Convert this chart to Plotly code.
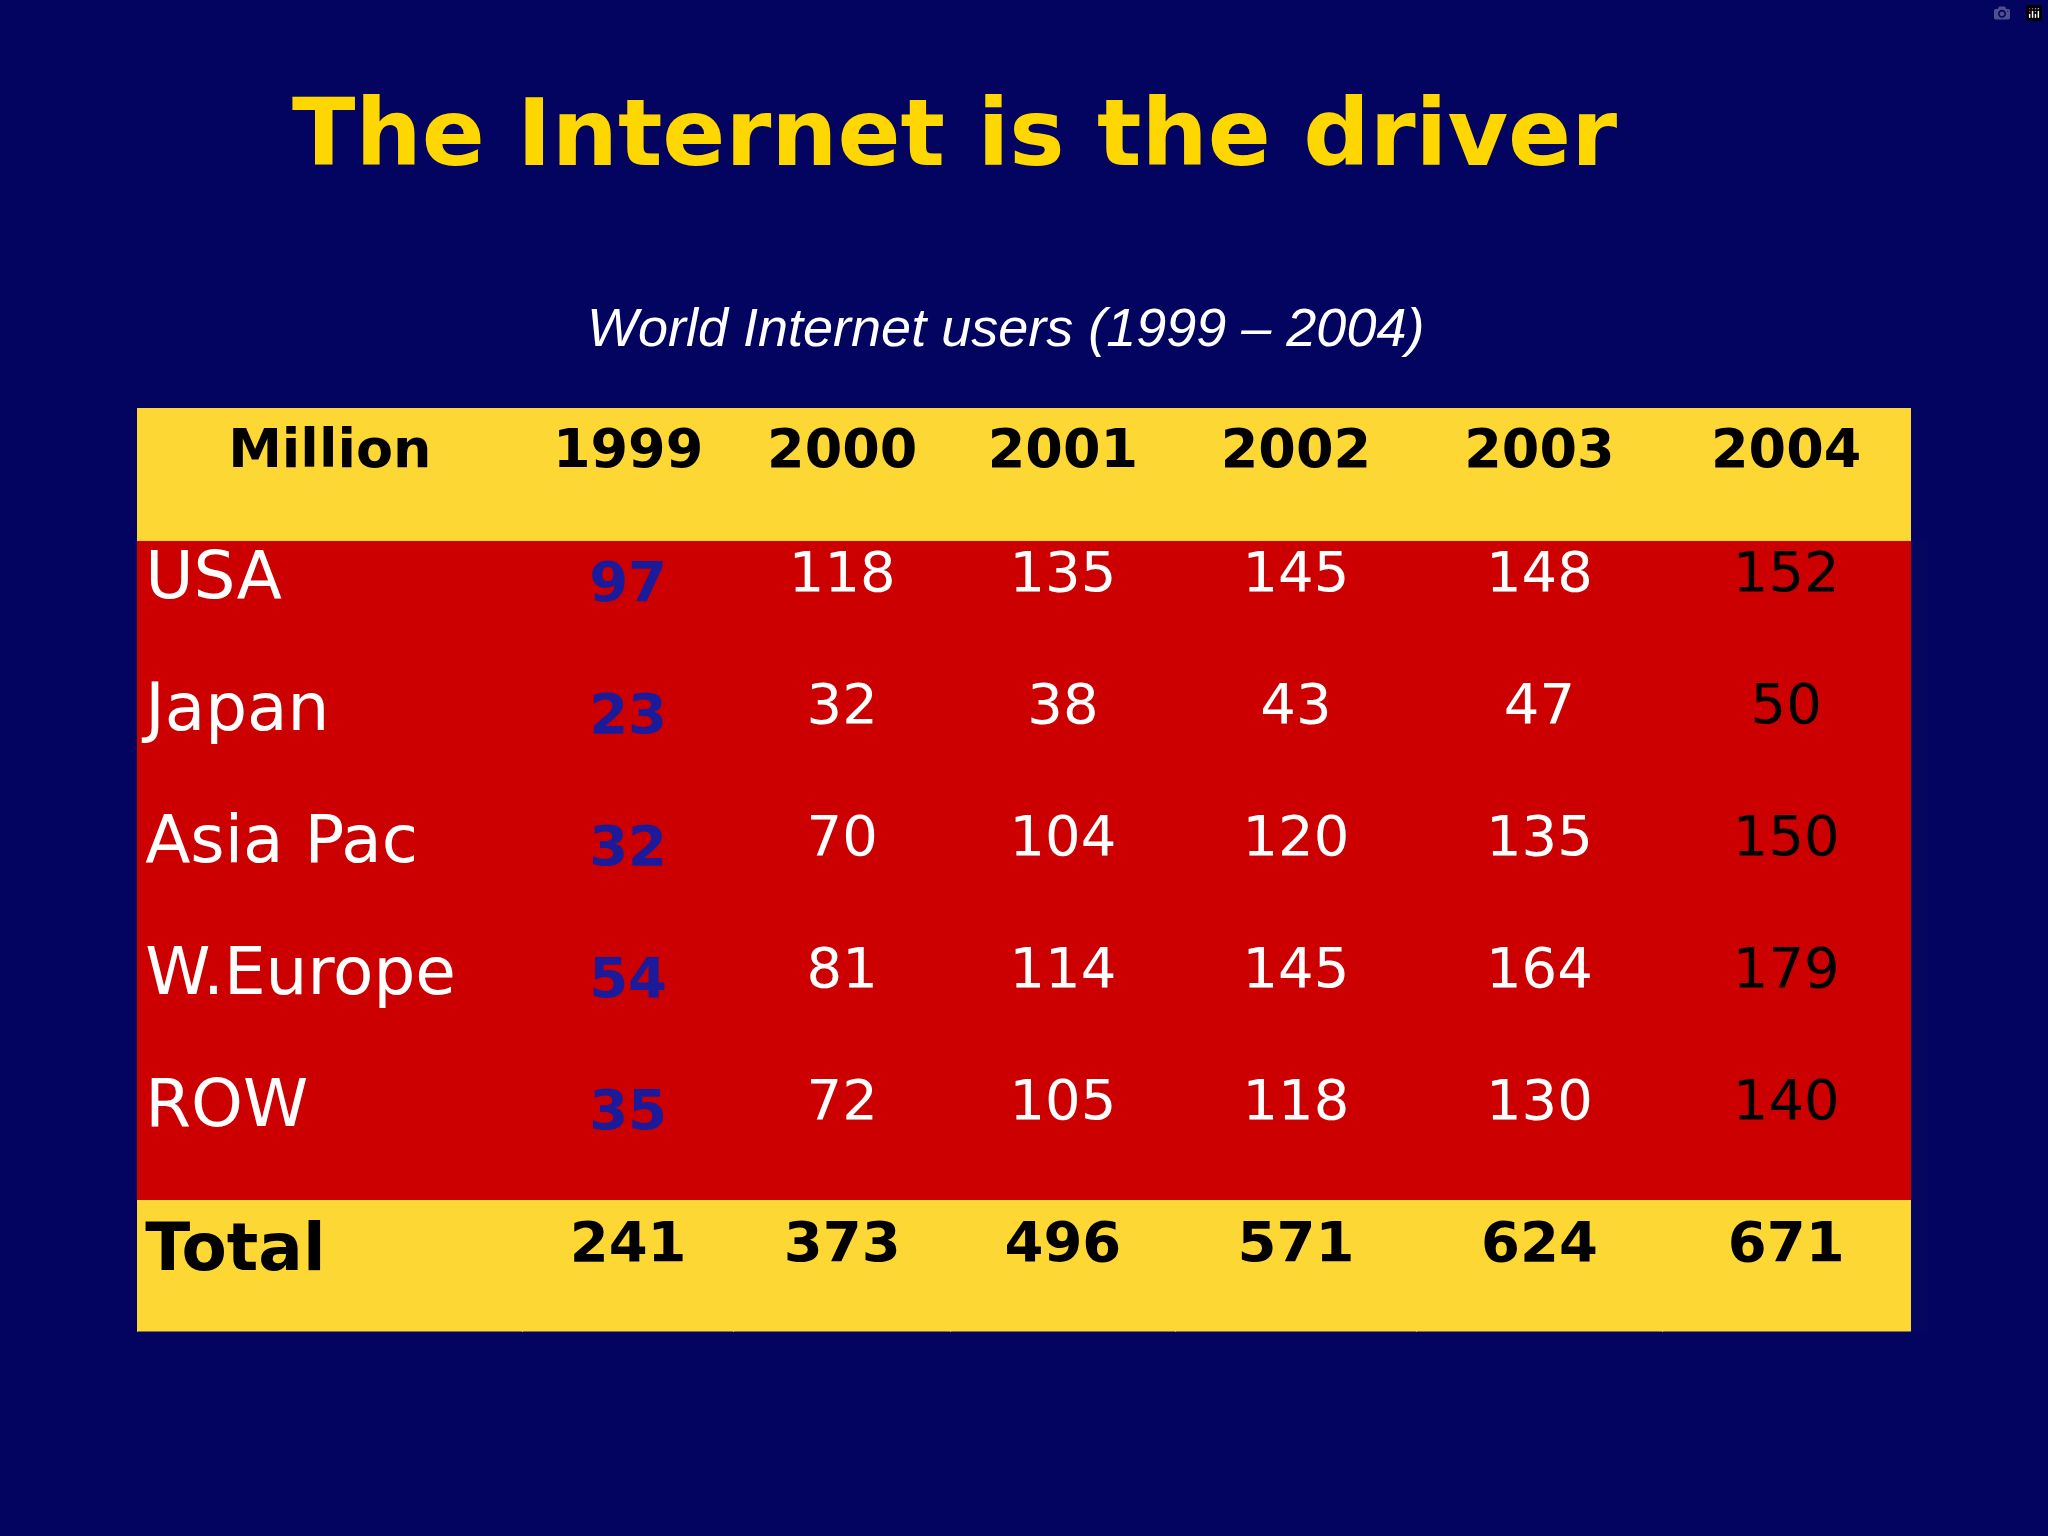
import plotly.graph_objects as go

years = ["1999", "2000", "2001", "2002", "2003", "2004"]
regions = ["USA", "Japan", "Asia Pac", "W.Europe", "ROW", "Total"]
y1999 = [97, 23, 32, 54, 35, 241]
y2000 = [118, 32, 70, 81, 72, 373]
y2001 = [135, 38, 104, 114, 105, 496]
y2002 = [145, 43, 120, 145, 118, 571]
y2003 = [148, 47, 135, 164, 130, 624]
y2004 = [152, 50, 150, 179, 140, 671]

navy = "#03045f"
red = "#cc0000"
yellow = "#fdd835"
blue = "#1a1a9a"

cols = [y1999, y2000, y2001, y2002, y2003, y2004]
col_colors = [blue, "white", "white", "white", "white", "black"]

values = [[r if r != "Total" else "<b>Total</b>" for r in regions]]
font_colors = [["white"] * 5 + ["black"]]
for vals, c in zip(cols, col_colors):
    txt = [("<b>%d</b>" % v) if (c == blue or i == 5) else str(v) for i, v in enumerate(vals)]
    values.append(txt)
    font_colors.append([c] * 5 + ["black"])

fills = [[red] * 5 + [yellow]] * 7

fig = go.Figure(go.Table(
    domain=dict(x=[0.067, 0.933], y=[0.133, 0.734]),
    columnwidth=[295, 162, 166, 172, 185, 188, 190],
    header=dict(
        values=["<b>Million</b>"] + ["<b>%s</b>" % y for y in years],
        fill_color=yellow,
        line_color=yellow,
        align="center",
        height=132,
        font=dict(family="DejaVu Sans", size=54, color="black"),
    ),
    cells=dict(
        values=values,
        fill_color=fills,
        line_color=[[red] * 5 + [yellow]] * 7,
        align=["left"] + ["center"] * 6,
        height=132,
        font=dict(family="DejaVu Sans", size=[66] + [56] * 6, color=font_colors),
    ),
))

fig.add_annotation(x=0.466, y=0.95, xref="paper", yref="paper", showarrow=False,
                   text="<b>The Internet is the driver</b>",
                   font=dict(family="DejaVu Sans", size=93, color="#ffd700"))
fig.add_annotation(x=0.491, y=0.808, xref="paper", yref="paper", showarrow=False,
                   text="<i>World Internet users (1999 – 2004)</i>",
                   font=dict(family="Liberation Sans", size=54, color="white"))

fig.update_layout(width=2048, height=1536, paper_bgcolor=navy, plot_bgcolor=navy,
                  margin=dict(l=0, r=0, t=0, b=0))
fig.write_html("out.html",
               post_script="document.body.style.margin='0';document.body.style.background='#03045f';")
